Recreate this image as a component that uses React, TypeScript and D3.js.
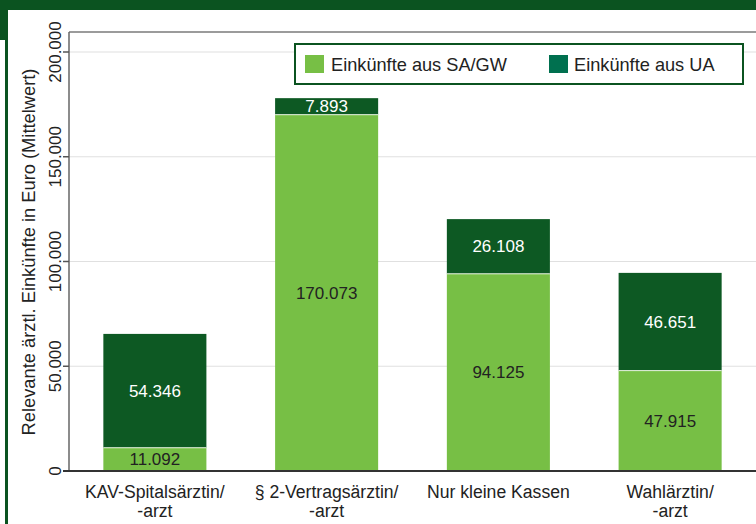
import * as d3 from "d3";

// Mean income per group, two stacked components (Euro)
const categories = ["KAV-Spitalsärztin/\n-arzt", "§ 2-Vertragsärztin/\n-arzt", "Nur kleine Kassen", "Wahlärztin/\n-arzt"];
const saGw = [11092, 170073, 94125, 47915];
const ua = [54346, 7893, 26108, 46651];
const yTicks = [0, 50000, 100000, 150000, 200000];
const seriesNames = ["Einkünfte aus SA/GW", "Einkünfte aus UA"];

const W = 756;
const H = 524;
const LIGHT = "#77bf45";
const DARK = "#0d5923";
const FRAME = "#0b5320";
const FONT = "'Liberation Sans', Arial, Helvetica, sans-serif";

const fmt = (v: number) => d3.format(",")(v).replace(/,/g, ".");

export default function App() {
  const x = d3.scaleBand<string>().domain(categories).range([69, 756]).paddingInner(0.4).paddingOuter(0.2);
  const y = d3.scaleLinear().domain([0, 200000]).range([471, 52]);
  const plotTop = 32;

  const rows = categories.map((c, i) => ({ c, a: saGw[i], b: ua[i] }));

  return (
    <svg width={W} height={H} style={{ position: "absolute", left: 0, top: 0, background: "#fff" }} fontFamily={FONT}>
      {/* frame */}
      <rect x={0} y={0} width={W} height={10} fill={FRAME} />
      <rect x={0} y={0} width={8} height={40} fill={FRAME} />
      <rect x={5} y={0} width={3} height={H} fill={FRAME} />

      {/* gridlines */}
      {yTicks.slice(1).map((t) => (
        <line key={t} x1={69} x2={W} y1={y(t)} y2={y(t)} stroke="#e0e0e0" strokeWidth={1.2} />
      ))}

      {/* plot border */}
      <line x1={69} x2={W} y1={plotTop} y2={plotTop} stroke="#7a7a7a" strokeWidth={1.5} />
      <line x1={69} x2={69} y1={plotTop} y2={y(0)} stroke="#666" strokeWidth={1.5} />

      {/* y ticks */}
      {yTicks.map((t) => (
        <g key={t}>
          <line x1={63} x2={69} y1={y(t)} y2={y(t)} stroke="#555" strokeWidth={1.5} />
          <text
            transform={`translate(61,${y(t)}) rotate(-90)`}
            textAnchor="middle"
            fontSize={17}
            fill="#222"
          >
            {fmt(t)}
          </text>
        </g>
      ))}

      <text
        transform={`translate(35,252) rotate(-90)`}
        textAnchor="middle"
        fontSize={18.3}
        fill="#222"
      >
        Relevante ärztl. Einkünfte in Euro (Mittelwert)
      </text>

      {/* bars */}
      {rows.map((r) => {
        const x0 = x(r.c) as number;
        const bw = x.bandwidth();
        const cx = x0 + bw / 2;
        const yA = y(r.a);
        const yB = y(r.a + r.b);
        return (
          <g key={r.c}>
            <rect x={x0} y={yA} width={bw} height={y(0) - yA} fill={LIGHT} />
            <rect x={x0} y={yB} width={bw} height={yA - yB} fill={DARK} />
            <line x1={x0} x2={x0 + bw} y1={yA} y2={yA} stroke="#e8f3df" strokeWidth={1} />
            <text x={cx} y={(yA + y(0)) / 2 + 6} textAnchor="middle" fontSize={17} fill="#222">
              {fmt(r.a)}
            </text>
            <text x={cx} y={(yA + yB) / 2 + 6} textAnchor="middle" fontSize={17} fill="#fff">
              {fmt(r.b)}
            </text>
            {r.c.split("\n").map((line, k) => (
              <text key={k} x={cx} y={498 + k * 19} textAnchor="middle" fontSize={17.6} fill="#222">
                {line}
              </text>
            ))}
          </g>
        );
      })}

      {/* baseline */}
      <line x1={63} x2={W} y1={y(0)} y2={y(0)} stroke="#333" strokeWidth={2} />

      {/* legend */}
      <rect x={295} y={44} width={448} height={40} fill="#fff" stroke={FRAME} strokeWidth={2} />
      <rect x={305} y={55} width={19} height={18} fill={LIGHT} />
      <text x={331} y={71} fontSize={18.2} fill="#222">{seriesNames[0]}</text>
      <rect x={549} y={55} width={19} height={18} fill="#00704f" />
      <text x={574} y={71} fontSize={18.2} fill="#222">{seriesNames[1]}</text>
    </svg>
  );
}
